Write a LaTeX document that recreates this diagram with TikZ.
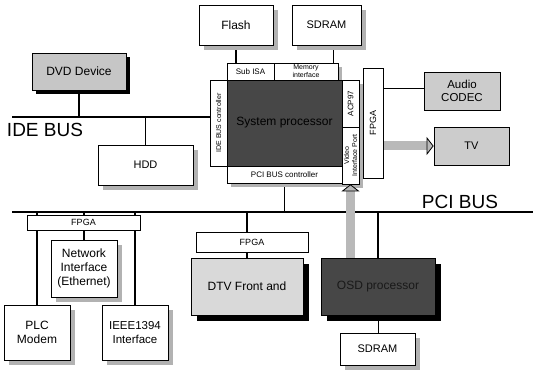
\documentclass[tikz,border=0pt]{standalone}
\usepackage{fontspec}
\setmainfont{Liberation Sans}
\usetikzlibrary{arrows.meta,backgrounds}
\begin{document}
\begin{tikzpicture}[x=1pt,y=-1pt,
  box/.style={draw=black, line width=0.7pt, fill=white, inner sep=0pt, align=center, font=\fontsize{11}{13}\selectfont},
  gsh/.style={draw=none, fill=gray!60, inner sep=0pt},
  bsh/.style={draw=none, fill=black, inner sep=0pt},
  small/.style={font=\fontsize{7}{8}\selectfont},
  conn/.style={line width=1.6pt},
  bus/.style={line width=1.8pt},
  fat/.style={line width=9pt, draw=gray!55, -{Triangle[length=7pt,width=18pt,color=black,fill=gray!55,line width=0.8pt]}}]
\useasboundingbox (0,0) rectangle (536,377);

% shadows (drawn first, under the boxes)
\node[gsh, minimum width=74pt, minimum height=40pt] (flashS) at (241,30) {};
\node[gsh, minimum width=69pt, minimum height=40pt] (sdramTS) at (331.5,30) {};
\node[bsh, minimum width=94pt, minimum height=37pt] (dvdS) at (83,75.5) {};
\node[gsh, minimum width=95pt, minimum height=40pt] (hddS) at (150.5,170) {};
\node[gsh, minimum width=64pt, minimum height=17pt] (memifS) at (310,75.5) {};
\node[gsh, minimum width=115pt, minimum height=17pt] (pcicS) at (288.5,178.5) {};
\node[gsh, minimum width=17pt, minimum height=47pt] (acpS) at (354.5,107.5) {};
\node[gsh, minimum width=17pt, minimum height=57pt] (vipS) at (354.5,159.5) {};
\node[gsh, minimum width=66pt, minimum height=57pt] (netS) at (89,273.5) {};
\node[gsh, minimum width=66pt, minimum height=55pt] (plcS) at (42,337.5) {};
\node[gsh, minimum width=66pt, minimum height=55pt] (ieeeS) at (140,337.5) {};
\node[bsh, minimum width=112pt, minimum height=57pt] (dtvS) at (253,292.5) {};
\node[bsh, minimum width=114pt, minimum height=57pt] (osdS) at (384,292.5) {};
\node[gsh, minimum width=75pt, minimum height=32pt] (sdramBS) at (382.5,354) {};

% top memory
\node[box, minimum width=74pt, minimum height=40pt, font=\fontsize{12}{14}\selectfont] (flash) at (236,25) {Flash};
\node[box, minimum width=69pt, minimum height=40pt] (sdramT) at (326.5,25) {SDRAM};

% IDE side
\node[box, fill=gray!45, minimum width=94pt, minimum height=37pt, font=\fontsize{12}{14}\selectfont] (dvd) at (79,71.5) {DVD Device};
\node[box, minimum width=95pt, minimum height=40pt] (hdd) at (145.5,165) {HDD};
\coordinate (ideL) at (12,117);
\node[font=\fontsize{19}{21}\selectfont, inner sep=0pt] (idelab) at (45,130) {IDE BUS};

% system processor block
\node[box, minimum width=47pt, minimum height=17pt, font=\fontsize{8}{9}\selectfont] (subisa) at (250.5,71.5) {Sub ISA};
\node[box, minimum width=64pt, minimum height=17pt, font=\fontsize{7}{8}\selectfont] (memif) at (306,71.5) {Memory\\interface};
\node[box, minimum width=86pt, minimum height=17pt, rotate=90, small] (idec) at (218.5,123) {IDE BUS controller};
\node[box, fill=black!72, text=black, minimum width=115pt, minimum height=86pt, font=\fontsize{12}{14}\selectfont] (sysp) at (284.5,123) {System processor};
\node[box, minimum width=115pt, minimum height=17pt, font=\fontsize{8}{9}\selectfont] (pcic) at (284.5,174.5) {PCI BUS controller};
\node[box, minimum width=57pt, minimum height=17pt, rotate=90, small] (vip) at (350.5,155.5) {Video\\Interface Port};
\node[box, minimum width=47pt, minimum height=17pt, rotate=90, font=\fontsize{8}{9}\selectfont] (acp) at (350.5,103.5) {ACP97};
\node[box, minimum width=110pt, minimum height=20pt, rotate=90, font=\fontsize{9}{10}\selectfont] (fpgaV) at (373,123) {FPGA};

% right side
\node[box, fill=gray!40, minimum width=76pt, minimum height=38pt, font=\fontsize{11.5}{13}\selectfont] (audio) at (462,91) {Audio\\CODEC};
\node[box, fill=gray!40, minimum width=75pt, minimum height=38pt] (tv) at (471.5,146) {TV};

% PCI bus
\coordinate (pciL) at (12,212);
\coordinate (pciR) at (533,212);
\node[font=\fontsize{19}{21}\selectfont, inner sep=0pt] (pcilab) at (460,202) {PCI BUS};

% lower left
\node[box, minimum width=113pt, minimum height=15pt, font=\fontsize{9}{10}\selectfont] (fpgaL) at (83.5,222.5) {FPGA};
\node[box, minimum width=66pt, minimum height=57pt, font=\fontsize{12}{14}\selectfont] (net) at (84,268.5) {Network\\Interface\\(Ethernet)};
\node[box, minimum width=66pt, minimum height=55pt, font=\fontsize{12}{14}\selectfont] (plc) at (37,332.5) {PLC\\Modem};
\node[box, minimum width=66pt, minimum height=55pt, font=\fontsize{11.5}{14}\selectfont] (ieee) at (135,332.5) {IEEE1394\\Interface};

% lower middle
\node[box, minimum width=112pt, minimum height=20pt, font=\fontsize{9}{10}\selectfont] (fpgaM) at (252,242) {FPGA};
\node[box, fill=gray!30, minimum width=112pt, minimum height=57pt, font=\fontsize{12}{14}\selectfont] (dtv) at (247,286.5) {DTV Front and};
\node[box, fill=black!72, text=black!90, minimum width=114pt, minimum height=57pt, font=\fontsize{12}{14}\selectfont] (osd) at (378,286.5) {OSD processor};
\node[box, minimum width=75pt, minimum height=32pt] (sdramB) at (377.5,349) {SDRAM};

\begin{pgfonlayer}{background}
  % memory links
  \draw[conn] (flash.south) -- (flash.south |- subisa.north);
  \draw[conn] ([xshift=7pt]sdramT.south) -- ([xshift=7pt]sdramT.south |- memif.north);
  % IDE bus
  \draw[bus] (ideL) -- (ideL -| idec.north);
  \draw[conn] (dvd.south) -- (dvd.south |- ideL);
  \draw[conn] (hdd.north) -- (hdd.north |- ideL);
  % PCI bus
  \draw[bus] (pciL) -- (pciR);
  \draw[conn] (pcic.south) -- (pcic.south |- pciL);
  \draw[conn] (plc.north) -- (plc.north |- pciL);
  \draw[conn] (net.north) -- (net.north |- pciL);
  \draw[conn] (ieee.north) -- (ieee.north |- pciL);
  \draw[conn] (dtv.north) -- (dtv.north |- pciL);
  \draw[conn] (osd.north) -- (osd.north |- pciL);
  % ACP97 / FPGA to audio
  \draw[line width=1pt] ([yshift=2pt]audio.west -| acp.south) -- ([yshift=2pt]audio.west);
  % video out to TV
  \draw[fat] (tv.west -| vip.south) -- (tv.west);
\end{pgfonlayer}
\draw[line width=1pt] (osd.south) -- (osd.south |- sdramB.north);
% video in from OSD
\draw[fat] (vip.west |- osd.north) -- (vip.west);
\end{tikzpicture}
\end{document}
